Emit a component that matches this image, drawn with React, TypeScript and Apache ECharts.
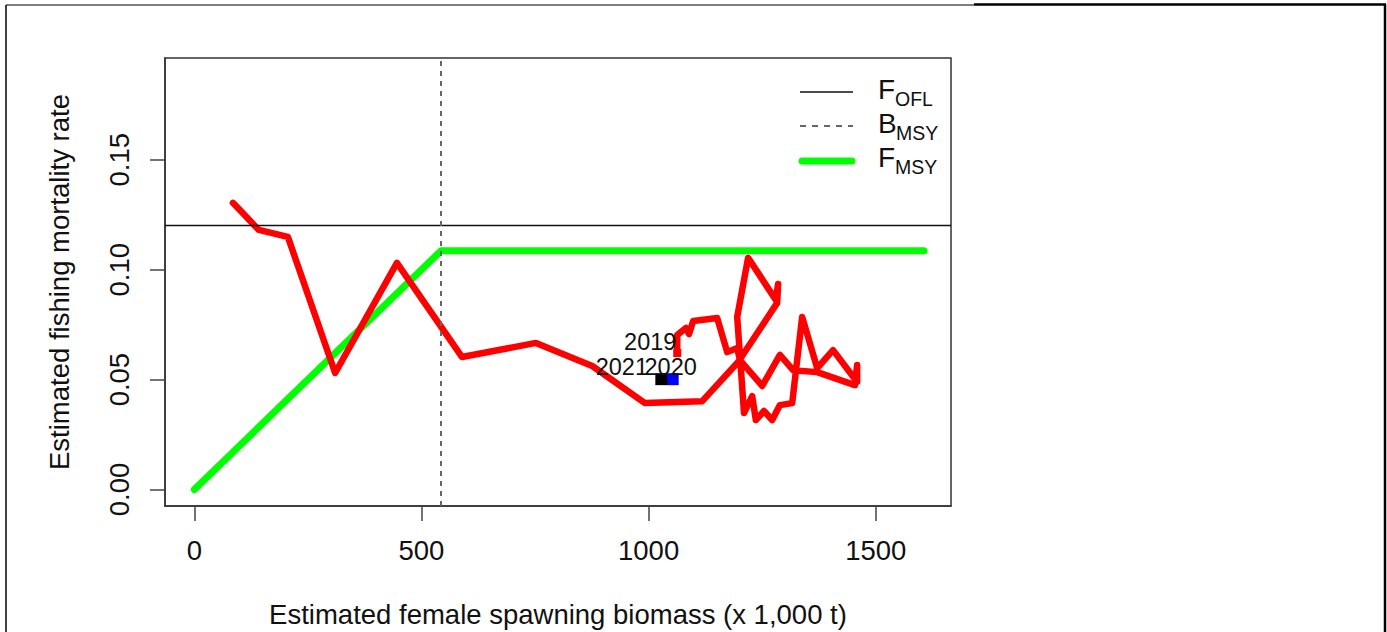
import React, { useEffect, useRef } from "react";
import * as echarts from "echarts";

// Estimated female spawning biomass (x 1,000 t), trajectory in time order (ending 2019)
const biomass = [85, 142, 206, 310, 446, 589, 752, 876, 992, 1118, 1197, 1283, 1285, 1280, 1219, 1195, 1210, 1228, 1236, 1254, 1272, 1289, 1316, 1338, 1371, 1406, 1459, 1459, 1454, 1371, 1318, 1289, 1250, 1201, 1195, 1173, 1151, 1098, 1089, 1082, 1063, 1063];
// Estimated fishing mortality rate for the same years
const fishingRate = [0.1304, 0.1181, 0.1149, 0.053, 0.1031, 0.0603, 0.0667, 0.0562, 0.0393, 0.0402, 0.058, 0.0849, 0.0935, 0.0862, 0.1054, 0.0785, 0.0348, 0.0425, 0.0316, 0.0357, 0.0316, 0.0384, 0.0393, 0.0785, 0.0552, 0.0634, 0.0489, 0.0566, 0.0475, 0.0534, 0.0543, 0.0612, 0.0471, 0.0589, 0.0644, 0.0625, 0.078, 0.0767, 0.0707, 0.0735, 0.0703, 0.0621];

// Projections
const projYears = ["2020", "2021"];
const projBiomass = [1053, 1028];
const projRate = [0.0502, 0.0502];
const lastYear = "2019";

// Reference points
const fofl = 0.1181;
const bmsy = 543;
const fmsyBiomass = [0, 543, 1606];
const fmsyRate = [0, 0.1086, 0.1086];

// Axis ticks
const xTicks = [0, 500, 1000, 1500];
const yTicks = [0, 0.05, 0.1, 0.15];

const FONT = "'Liberation Sans', Arial, Helvetica, sans-serif";

export default function App() {
  const ref = useRef<HTMLDivElement>(null);

  useEffect(() => {
    if (!ref.current) return;
    const chart = echarts.init(ref.current, undefined, { renderer: "svg" });

    const traj = biomass.map((b, i) => [b, fishingRate[i]]);
    const last = traj[traj.length - 1];
    const fmsy = fmsyBiomass.map((b, i) => [b, fmsyRate[i]]);

    const option: any = {
      animation: false,
      backgroundColor: "#ffffff",
      textStyle: { fontFamily: FONT },
      grid: {
        left: 165,
        top: 58,
        width: 786,
        height: 448,
        show: true,
        borderColor: "#333",
        borderWidth: 1.5,
        backgroundColor: "transparent",
        containLabel: false,
        outerBoundsMode: "none",
      },
      xAxis: {
        type: "value",
        min: -64.5,
        max: 1665.6,
        name: "Estimated female spawning biomass (x 1,000 t)",
        nameLocation: "middle",
        nameGap: 94,
        nameTextStyle: { fontSize: 27.5, color: "#111", fontFamily: FONT },
        axisLine: { show: true, onZero: false, lineStyle: { color: "#333", width: 1.5 } },
        splitLine: { show: false },
        axisTick: {
          show: true,
          inside: false,
          length: 15,
          customValues: xTicks,
          lineStyle: { color: "#444", width: 1.5 },
        },
        axisLabel: {
          show: true,
          customValues: xTicks,
          margin: 30,
          fontSize: 27.5,
          color: "#111",
          fontFamily: FONT,
          formatter: (v: number) => String(v),
        },
      },
      yAxis: {
        type: "value",
        min: -0.0075,
        max: 0.1963,
        name: "Estimated fishing mortality rate",
        nameLocation: "middle",
        nameGap: 92,
        nameTextStyle: { fontSize: 27.5, color: "#111", fontFamily: FONT },
        axisLine: { show: true, onZero: false, lineStyle: { color: "#333", width: 1.5 } },
        splitLine: { show: false },
        axisTick: {
          show: true,
          inside: false,
          length: 15,
          customValues: yTicks,
          lineStyle: { color: "#444", width: 1.5 },
        },
        axisLabel: {
          show: true,
          customValues: yTicks,
          rotate: 90,
          margin: 32,
          fontSize: 27.5,
          color: "#111",
          fontFamily: FONT,
          formatter: (v: number) => v.toFixed(2),
        },
      },
      series: [
        {
          type: "line",
          name: "FOFL",
          data: [],
          markLine: {
            silent: true,
            symbol: "none",
            label: { show: false },
            lineStyle: { color: "#111", width: 1.3, type: "solid" },
            data: [{ yAxis: fofl }],
          },
        },
        {
          type: "line",
          name: "BMSY",
          data: [],
          markLine: {
            silent: true,
            symbol: "none",
            label: { show: false },
            lineStyle: { color: "#666", width: 2, type: [5, 5] },
            data: [{ xAxis: bmsy }],
          },
        },
        {
          type: "line",
          name: "FMSY",
          data: fmsy,
          showSymbol: false,
          symbol: "none",
          lineStyle: { color: "#00ff00", width: 7, cap: "round", join: "round" },
          z: 2,
        },
        {
          type: "line",
          name: "Trajectory",
          data: traj,
          showSymbol: false,
          symbol: "none",
          lineStyle: { color: "#ff0000", width: 6.5, cap: "round", join: "round" },
          z: 3,
        },
        {
          type: "scatter",
          name: "last",
          data: [last],
          symbol: "rect",
          symbolSize: 8,
          itemStyle: { color: "#ff0000", opacity: 1 },
          z: 4,
          label: {
            show: true,
            formatter: lastYear,
            position: "inside",
            offset: [-27, -11],
            fontSize: 23.5,
            color: "#111",
            fontFamily: FONT,
          },
        },
        {
          type: "scatter",
          name: "proj",
          data: projBiomass.map((b, i) => ({
            value: [b, projRate[i]],
            itemStyle: { color: i === 0 ? "#0000ff" : "#000000", opacity: 1 },
            label: {
              formatter: projYears[i],
              offset: i === 0 ? [-2, -12.5] : [-39.5, -12.5],
            },
          })),
          symbol: "rect",
          symbolSize: 12,
          itemStyle: { opacity: 1 },
          z: 5,
          label: {
            show: true,
            position: "inside",
            fontSize: 23.5,
            color: "#111",
            fontFamily: FONT,
          },
        },
      ],
      graphic: [
        // page frame
        { type: "line", shape: { x1: 6, y1: 5, x2: 974, y2: 5 }, style: { stroke: "#000", lineWidth: 1.2 } },
        { type: "line", shape: { x1: 974, y1: 4.5, x2: 1386, y2: 4.5 }, style: { stroke: "#000", lineWidth: 2.5 } },
        { type: "line", shape: { x1: 6, y1: 5, x2: 6, y2: 632 }, style: { stroke: "#000", lineWidth: 1.5 } },
        { type: "line", shape: { x1: 1385, y1: 4, x2: 1385, y2: 632 }, style: { stroke: "#000", lineWidth: 2.5 } },
        // legend
        { type: "line", shape: { x1: 800, y1: 92, x2: 853, y2: 92 }, style: { stroke: "#111", lineWidth: 1.5 } },
        { type: "line", shape: { x1: 800, y1: 126, x2: 853, y2: 126 }, style: { stroke: "#666", lineWidth: 2, lineDash: [6, 6] } },
        { type: "line", shape: { x1: 802, y1: 161, x2: 852, y2: 161 }, style: { stroke: "#00ff00", lineWidth: 7, lineCap: "round" } },
        { type: "text", x: 878, y: 89.5, style: { text: "F", fontSize: 28, fontFamily: FONT, fill: "#111", verticalAlign: "middle", align: "left" } },
        { type: "text", x: 895, y: 99, style: { text: "OFL", fontSize: 19.5, fontFamily: FONT, fill: "#111", verticalAlign: "middle", align: "left" } },
        { type: "text", x: 878, y: 123.5, style: { text: "B", fontSize: 28, fontFamily: FONT, fill: "#111", verticalAlign: "middle", align: "left" } },
        { type: "text", x: 896, y: 133, style: { text: "MSY", fontSize: 19.5, fontFamily: FONT, fill: "#111", verticalAlign: "middle", align: "left" } },
        { type: "text", x: 878, y: 157.5, style: { text: "F", fontSize: 28, fontFamily: FONT, fill: "#111", verticalAlign: "middle", align: "left" } },
        { type: "text", x: 895, y: 167, style: { text: "MSY", fontSize: 19.5, fontFamily: FONT, fill: "#111", verticalAlign: "middle", align: "left" } },
      ],
    };

    chart.setOption(option);
    return () => chart.dispose();
  }, []);

  return (
    <div
      ref={ref}
      style={{ position: "fixed", left: 0, top: 0, width: 1387, height: 632, background: "#fff" }}
    />
  );
}
